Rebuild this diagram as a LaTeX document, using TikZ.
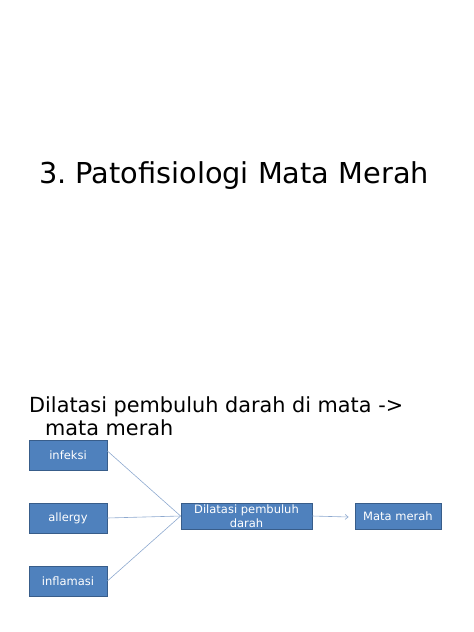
\documentclass[tikz,border=0pt]{standalone}
\usepackage{fontspec}
\setmainfont{DejaVu Sans}
\usetikzlibrary{arrows.meta}
\definecolor{boxfill}{HTML}{4F81BD}
\definecolor{boxline}{HTML}{385D8A}
\definecolor{conn}{HTML}{8EA9CF}
\frenchspacing
\begin{document}
\begin{tikzpicture}[x=1pt,y=-1pt,
  box/.style={draw=boxline,fill=boxfill,line width=0.8pt,text=white,font=\fontsize{11.5}{13.5}\selectfont,align=center,inner sep=0pt},
  link/.style={draw=conn,line width=0.6pt}]
\useasboundingbox (0,0) rectangle (474,632);
\node[anchor=base,inner sep=0pt,font=\fontsize{28.8}{32}\selectfont] (title) at (234,183) {3. Patofisiologi Mata Merah};
\node[anchor=base west,inner sep=0pt,font=\fontsize{20.8}{24}\selectfont] (sub1) at (29,412) {Dilatasi pembuluh darah di mata ->};
\node[anchor=base west,inner sep=0pt,font=\fontsize{20.8}{24}\selectfont] (sub2) at (45,435) {mata merah};
\node[box,minimum width=78pt,minimum height=30pt] (inf) at (68,455) {infeksi};
\node[box,minimum width=78pt,minimum height=30pt] (all) at (68,518) {allergy};
\node[box,minimum width=78pt,minimum height=30pt] (infl) at (68,581) {inflamasi};
\node[box,minimum width=131pt,minimum height=26pt] (dil) at (246.5,516) {Dilatasi pembuluh\\darah};
\node[box,minimum width=86pt,minimum height=26pt] (mm) at (398,516) {Mata merah};
\draw[link] ([yshift=4pt]inf.east) -- (dil.west);
\draw[link] (all.east) -- (dil.west);
\draw[link] (infl.east) -- (dil.west);
\draw[link,-{Straight Barb[length=3pt,width=5pt]}] (dil.east) -- ([xshift=-6pt,yshift=-1pt]mm.west);
\end{tikzpicture}
\end{document}
